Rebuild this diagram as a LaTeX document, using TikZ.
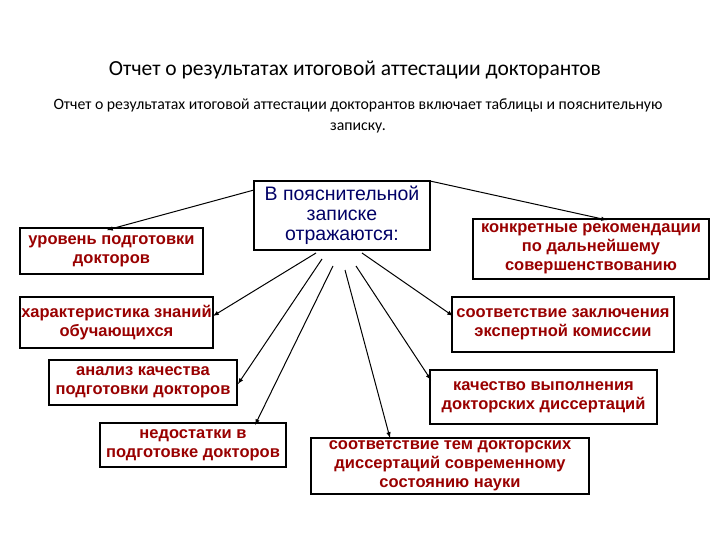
\documentclass[tikz,border=0pt]{standalone}
\usepackage{fontspec}
\setmainfont{Carlito}
\newfontfamily\bx{Liberation Sans}
\begin{document}
\begin{tikzpicture}[x=1pt,y=-1pt,
  bxs/.style={draw=black,line width=1.1pt,fill=white,inner sep=0pt,align=center,
    text=red!60!black,font=\bx\bfseries\fontsize{16.5}{19}\selectfont},
  arr/.style={-latex,line width=1pt}]
\useasboundingbox (0,0) rectangle (720,540);
\node[font=\fontsize{21.5}{24}\selectfont] (title) at (355,70) {Отчет о результатах итоговой аттестации докторантов};
\node[align=center,font=\fontsize{15.8}{21}\selectfont] (sub) at (358,116) {Отчет о результатах итоговой аттестации докторантов включает таблицы и пояснительную\\ записку.};
\node[bxs,minimum width=176pt,minimum height=69pt,text=blue!40!black,font=\bx\fontsize{19.5}{20}\selectfont] (c) at (342,215.5) {В пояснительной\\ записке\\ отражаются:};
\node[bxs,minimum width=183pt,minimum height=46pt] (b1) at (111.5,251) {уровень подготовки\\ докторов};
\node[bxs,minimum width=193pt,minimum height=51pt] (b2) at (116.5,322.5) {характеристика знаний\\ обучающихся};
\node[bxs,minimum width=188pt,minimum height=45pt] (b3) at (143,382.5) {анализ качества\\ подготовки докторов};
\node[bxs,minimum width=186pt,minimum height=44pt] (b4) at (193,445) {недостатки в\\ подготовке докторов};
\node[bxs,minimum width=278pt,minimum height=56pt] (b5) at (450,466) {соответствие тем докторских\\ диссертаций современному\\ состоянию науки};
\node[bxs,minimum width=227pt,minimum height=54pt] (b6) at (543.5,397) {качество выполнения\\ докторских диссертаций};
\node[bxs,minimum width=222pt,minimum height=55pt] (b7) at (563,324.5) {соответствие заключения\\ экспертной комиссии};
\node[bxs,minimum width=236pt,minimum height=60pt] (b8) at (591,249) {конкретные рекомендации\\ по дальнейшему\\ совершенствованию};
\coordinate (s1) at (254,190);
\coordinate (s8) at (430,181);
\coordinate (e1) at (107,230);
\coordinate (e8) at (607,220);
\draw[arr] (s1) -- (e1);
\draw[arr] (s8) -- (e8);
\coordinate (t2) at (316,253); \coordinate (u2) at (213,316);
\coordinate (t3) at (322,259); \coordinate (u3) at (238,384);
\coordinate (t4) at (333,266); \coordinate (u4) at (255,425);
\coordinate (t5) at (345,270); \coordinate (u5) at (390,438);
\coordinate (t6) at (356,266); \coordinate (u6) at (431,380);
\coordinate (t7) at (362,253); \coordinate (u7) at (453,316);
\foreach \i in {2,...,7} \draw[arr] (t\i) -- (u\i);
\end{tikzpicture}
\end{document}
